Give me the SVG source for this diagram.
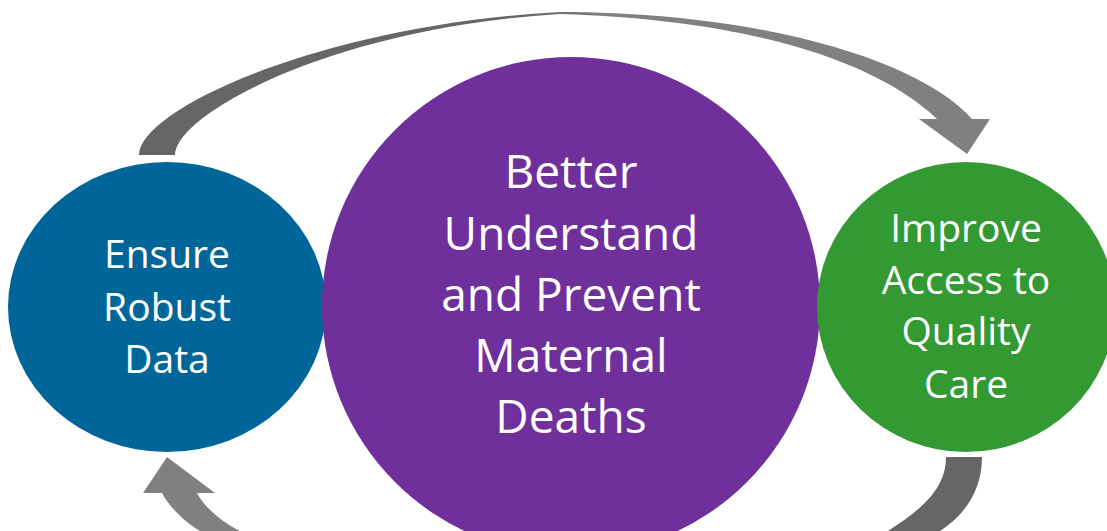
<svg xmlns="http://www.w3.org/2000/svg" width="1107" height="531" viewBox="0 0 1107 531">
<defs>
<linearGradient id="topgrad" x1="139" y1="0" x2="990" y2="0" gradientUnits="userSpaceOnUse">
<stop offset="0" stop-color="#666666"/>
<stop offset="0.45" stop-color="#666666"/>
<stop offset="0.55" stop-color="#808080"/>
<stop offset="1" stop-color="#808080"/>
</linearGradient>
<style>
.lbl { font-family: "Open Sans", "Noto Sans", sans-serif; fill: #ffffff; text-anchor: middle; }
.sm { font-size: 39px; }
.lg { font-size: 46px; }
</style>
</defs>
<rect width="1107" height="531" fill="#ffffff"/>
<g id="connectors">
<path d="M139,155 C139,110 320,25 560,12 C760,12 920,60 972,119 L990,119 L967,154 L919,119 L937,119 C880,65 760,20 560,14 C330,28 175,115 175,155 Z" fill="url(#topgrad)"/>
<path d="M946,457 L982,457 C982,490 965,515 940,531 L888,531 C920,510 946,490 946,457 Z" fill="#666666"/>
<path d="M167,457 L215,493 L197,493 C205,508 222,522 240,531 L200,531 C185,522 170,508 162,493 L143,493 Z" fill="#808080"/>
</g>
<g id="node-data">
<ellipse cx="167" cy="307" rx="159" ry="145" fill="#006699"/>
<text class="lbl sm" x="167" y="268">Ensure</text>
<text class="lbl sm" x="167" y="321">Robust</text>
<text class="lbl sm" x="167" y="373">Data</text>
</g>
<g id="node-center">
<circle cx="571" cy="306" r="249" fill="#70309c"/>
<text class="lbl lg" x="571" y="188">Better</text>
<text class="lbl lg" x="571" y="250">Understand</text>
<text class="lbl lg" x="571" y="311">and Prevent</text>
<text class="lbl lg" x="571" y="372">Maternal</text>
<text class="lbl lg" x="571" y="433">Deaths</text>
</g>
<g id="node-care">
<ellipse cx="966" cy="307" rx="149" ry="145" fill="#339933"/>
<text class="lbl sm" x="966" y="242">Improve</text>
<text class="lbl sm" x="966" y="294">Access to</text>
<text class="lbl sm" x="966" y="345">Quality</text>
<text class="lbl sm" x="966" y="398">Care</text>
</g>
</svg>
